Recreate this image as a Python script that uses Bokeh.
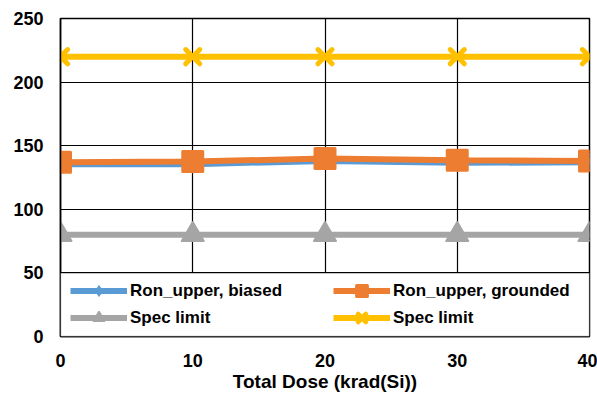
from bokeh.plotting import figure
from bokeh.models import Range1d, Legend, LegendItem, BoxAnnotation, FixedTicker
from bokeh.embed import file_html
from bokeh.resources import INLINE

# ---- data ----
dose = [0, 10, 20, 30, 40]
ron_biased = [135.5, 135.5, 138, 136.5, 137]
ron_grounded = [137, 137.5, 140, 138.5, 138]
spec_low = [80, 80, 80, 80, 80]
spec_high = [220, 220, 220, 220, 220]
x_ticks = [0, 10, 20, 30, 40]
y_ticks = [0, 50, 100, 150, 200, 250]
names = ["Ron_upper, biased", "Ron_upper, grounded", "Spec limit", "Spec limit"]
x_title = "Total Dose (krad(Si))"

FONT = "Liberation Sans"
BLUE, ORANGE, GRAY, YELLOW = "#5B9BD5", "#ED7D31", "#A5A5A5", "#FFC000"

p = figure(width=597, height=404, output_backend="svg", toolbar_location=None,
           x_range=Range1d(0, 40), y_range=Range1d(0, 250),
           min_border_left=60, min_border_right=8, min_border_top=18,
           min_border_bottom=68)

p.background_fill_color = "white"
p.border_fill_color = "white"
p.outline_line_color = "black"
p.outline_line_width = 1.5

for ax in (p.xaxis[0], p.yaxis[0]):
    ax.major_tick_line_color = None
    ax.minor_tick_line_color = None
    ax.axis_line_color = "black"
    ax.axis_line_width = 1.5
    ax.major_label_text_font = FONT
    ax.major_label_text_font_style = "bold"
    ax.major_label_text_font_size = "18px"
    ax.major_label_text_color = "black"

p.xaxis.ticker = FixedTicker(ticks=x_ticks)
p.yaxis.ticker = FixedTicker(ticks=y_ticks)
p.xaxis.major_label_standoff = 11
p.yaxis.major_label_standoff = 11
p.xaxis.axis_label = x_title
p.xaxis.axis_label_text_font = FONT
p.xaxis.axis_label_text_font_style = "bold"
p.xaxis.axis_label_text_font_size = "19px"
p.xaxis.axis_label_text_color = "black"
p.xaxis.axis_label_standoff = 1

p.grid.grid_line_color = "black"
p.grid.grid_line_width = 1.2
p.xgrid.ticker = FixedTicker(ticks=x_ticks)
p.ygrid.ticker = FixedTicker(ticks=y_ticks)

# series
l1 = p.line(dose, ron_biased, line_color=BLUE, line_width=6)
m1 = p.scatter(dose, ron_biased, marker="diamond", size=18, fill_color=BLUE, line_color=BLUE)
l2 = p.line(dose, ron_grounded, line_color=ORANGE, line_width=6)
m2 = p.scatter(dose, ron_grounded, marker="square", size=20, fill_color=ORANGE,
               line_color=ORANGE, line_width=3, line_join="round")
l3 = p.line(dose, spec_low, line_color=GRAY, line_width=6)
m3 = p.scatter(dose, spec_low, marker="triangle", size=22, fill_color=GRAY,
               line_color=GRAY, line_width=2, line_join="round")
l4 = p.line(dose, spec_high, line_color=YELLOW, line_width=6)
m4 = p.scatter(dose, spec_high, marker="x", size=20, line_color=YELLOW,
               line_width=5, line_cap="round")

# legend band
band = BoxAnnotation(left=0, right=40, bottom=0, top=50, fill_color="white",
                     fill_alpha=1, line_color="black", line_width=1.5)
p.add_layout(band)

def mk_legend(items, loc):
    lg = Legend(items=items, location=loc, orientation="vertical",
                border_line_alpha=0, background_fill_alpha=0,
                glyph_width=57, glyph_height=27, label_height=20,
                spacing=0, padding=0, margin=0, label_standoff=3,
                label_text_font=FONT, label_text_font_style="bold",
                label_text_font_size="17px", label_text_color="black")
    return lg

leg_a = mk_legend([LegendItem(label=names[0], renderers=[l1, m1]),
                   LegendItem(label=names[2], renderers=[l3, m3])], (10, 5))
leg_b = mk_legend([LegendItem(label=names[1], renderers=[l2, m2]),
                   LegendItem(label=names[3], renderers=[l4, m4])], (273, 5))
p.add_layout(leg_a)
p.add_layout(leg_b)

open("out.html", "w").write(file_html(p, INLINE))
